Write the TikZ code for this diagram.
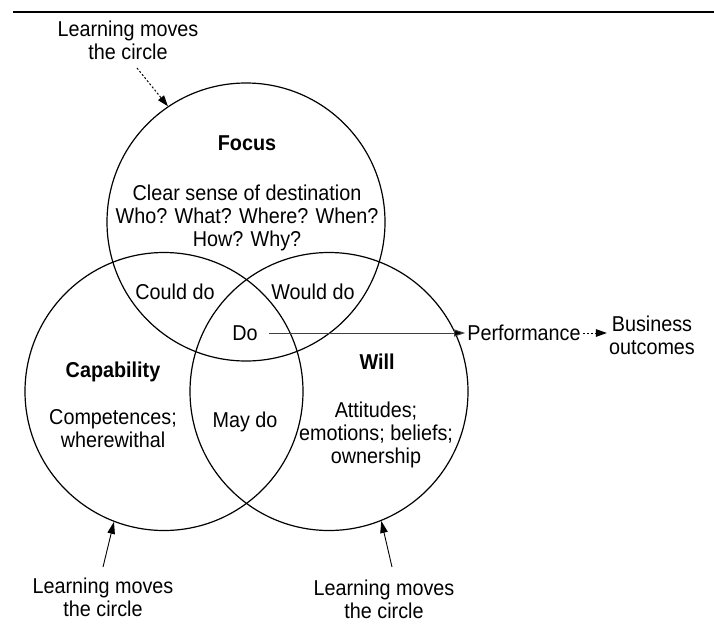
\documentclass[tikz,border=0pt]{standalone}
\usepackage{fontspec}
\setmainfont[FakeStretch=0.92]{Liberation Sans}
\usetikzlibrary{arrows.meta}
\begin{document}
\begin{tikzpicture}[x=1pt,y=-1pt,
  every node/.style={font=\fontsize{21.5}{23}\selectfont, align=center, inner sep=2pt},
  ring/.style={draw, circle, line width=1.2pt, minimum size=278pt, inner sep=0pt},
  heading/.style={font=\fontsize{21.5}{23}\selectfont\bfseries},
  solidarrow/.style={line width=0.9pt, -{Triangle[length=12pt,width=7.5pt]}},
  flowarrow/.style={line width=1pt, draw=black!75, -{Triangle[length=11pt,width=7pt,fill=black]}},
  dotarrow/.style={line width=1pt, dash pattern=on 2pt off 2pt, -{Triangle[length=11pt,width=7.5pt]}},
]
\useasboundingbox (0,0) rectangle (714,624);

% rule under the caption
\draw[line width=1.5pt] (13,12) -- (714,12);

% the three overlapping circles
\node[ring] (focus) at (246,222) {};
\node[ring] (cap) at (164,391.5) {};
\node[ring] (will) at (329,391.5) {};

% circle headings and contents
\node[heading] (focusT) at (247,143) {Focus};
\node (focusX) at (247,218) {Clear sense of destination\\Who? What? Where? When?\\How? Why?};
\node[heading] (capT) at (113,372) {Capability};
\node (capX) at (113,429) {Competences;\\wherewithal};
\node[heading] (willT) at (377,362) {Will};
\node (willX) at (376,435) {Attitudes;\\emotions; beliefs;\\ownership};

% overlap regions
\node (could) at (175,292) {Could do};
\node (would) at (313,292) {Would do};
\node (may) at (245,422) {May do};
\node (do) at (245,333) {Do};

% outputs
\node (perf) at (524,333) {Performance};
\node (busi) at (652,335.5) {Business\\outcomes};

% learning labels
\node (lmtop) at (128,40) {Learning moves\\the circle};
\node (lmleft) at (103,597) {Learning moves\\the circle};
\node (lmright) at (384,599) {Learning moves\\the circle};

\coordinate (tailtop) at (137,68);
\coordinate (tailleft) at (103,567);
\coordinate (tailright) at (392,567);

% connectors
\draw[dotarrow] (tailtop) -- (focus.124);
\draw[solidarrow] (tailleft) -- (cap.249);
\draw[solidarrow] (tailright) -- (will.292);
\draw[flowarrow, shorten <=9pt] (do.east) -- (perf.west);
\draw[dotarrow] (perf.east) -- (perf.east -| busi.west);
\end{tikzpicture}
\end{document}
